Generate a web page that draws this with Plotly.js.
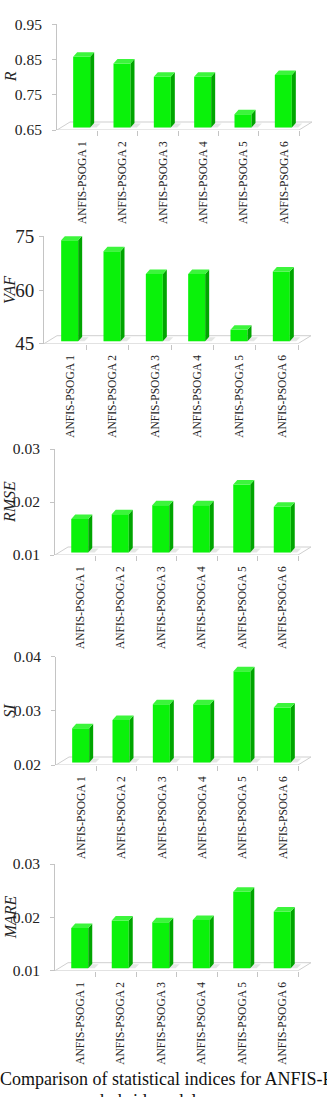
<!DOCTYPE html>
<html>
<head>
<meta charset="utf-8">
<script src="https://cdn.plot.ly/plotly-3.0.1.min.js"></script>
<style>html,body{margin:0;padding:0;background:#fff;overflow:hidden}</style>
</head>
<body>
<div id="chart" style="width:327px;height:1097px"></div>
<script>
// ---- data ----
const categories = ["ANFIS-PSOGA 1","ANFIS-PSOGA 2","ANFIS-PSOGA 3","ANFIS-PSOGA 4","ANFIS-PSOGA 5","ANFIS-PSOGA 6"];
const metricNames = ["R","VAF","RMSE","SI","MARE"];
const R_values    = [0.858, 0.839, 0.801, 0.801, 0.695, 0.806];
const VAF_values  = [73.9, 70.8, 64.5, 64.5, 48.9, 65.2];
const RMSE_values = [0.0168, 0.0177, 0.0194, 0.0194, 0.0233, 0.0191];
const SI_values   = [0.0268, 0.0283, 0.0312, 0.0312, 0.0373, 0.0306];
const MARE_values = [0.0180, 0.0194, 0.0191, 0.0195, 0.0248, 0.0211];
const R_ticks    = [0.65, 0.75, 0.85, 0.95];
const VAF_ticks  = [45, 60, 75];
const RMSE_ticks = [0.01, 0.02, 0.03];
const SI_ticks   = [0.02, 0.03, 0.04];
const MARE_ticks = [0.01, 0.02, 0.03];
const R_tickText    = ["0.65","0.75","0.85","0.95"];
const VAF_tickText  = ["45","60","75"];
const RMSE_tickText = ["0.01","0.02","0.03"];
const SI_tickText   = ["0.02","0.03","0.04"];
const MARE_tickText = ["0.01","0.02","0.03"];
const captionLine1 = "Comparison of statistical indices for ANFIS-PSOGA";
const captionLine2 = "hybrid models";

// ---- layout (pixel frames of each panel) ----
const W = 327, H = 1097;
const panels = [
  {vals:R_values,    ticks:R_ticks,    text:R_tickText,    left:57, right:299, top:24.3,  bot:130,   fs:15.5, standoff:7},
  {vals:VAF_values,  ticks:VAF_ticks,  text:VAF_tickText,  left:44, right:298, top:236.3, bot:343.7, fs:19,   standoff:1},
  {vals:RMSE_values, ticks:RMSE_ticks, text:RMSE_tickText, left:55, right:298, top:449,   bot:555,   fs:15.5, standoff:7},
  {vals:SI_values,   ticks:SI_ticks,   text:SI_tickText,   left:56, right:298, top:656.7, bot:765,   fs:15.5, standoff:7},
  {vals:MARE_values, ticks:MARE_ticks, text:MARE_tickText, left:55, right:298, top:864,   bot:970.7, fs:15.5, standoff:7}
];
const depthPx = {dx:13, dy:8};
const barPx = {w:17, shift:4.5, sdx:4, sdy:4.5, lift:2.5};
const labelShiftPx = 5;
const colors = {front:'#0af20a', side:'#00a500', top:'#3cf53c', floor:'#cfcfcf', axis:'#c4c4c4', text:'#222'};
const serif = 'Liberation Serif, Times New Roman, serif';

const traces = [];
const layout = {
  width:W, height:H, margin:{l:0,r:0,t:0,b:0},
  paper_bgcolor:'#fff', plot_bgcolor:'rgba(0,0,0,0)', showlegend:false,
  annotations:[], shapes:[]
};

function pathOf(xs, ys){
  return xs.map((x,i)=>(i?'L':'M')+x+','+ys[i]).join(' ')+' Z';
}

panels.forEach((p, k) => {
  const sfx = k === 0 ? '' : String(k+1);
  const xa = 'x'+sfx, ya = 'y'+sfx;
  const n = categories.length;
  const unitX = (p.right - p.left) / n;
  const ymin = p.ticks[0], ymax = p.ticks[p.ticks.length-1];
  const unitY = (p.bot - p.top) / (ymax - ymin);
  const dxu = depthPx.dx / unitX, dyu = depthPx.dy / unitY;
  const idx = categories.map((c,i)=>i);

  layout['xaxis'+sfx] = {
    domain:[p.left/W, (p.right+depthPx.dx)/W],
    range:[-0.5, n-0.5+dxu], anchor:ya,
    showline:false, showgrid:false, zeroline:false, fixedrange:true,
    tickmode:'array', tickvals:idx.map(i=>i+labelShiftPx/unitX), ticktext:categories,
    ticks:'', tickangle:-90, ticklabelstandoff:8,
    tickfont:{family:serif, size:11.5, color:colors.text},
    minor:{tickmode:'array', tickvals:idx.map(i=>i+0.5), ticks:'outside', ticklen:5, tickcolor:colors.axis, tickwidth:1, showgrid:false}
  };
  layout['yaxis'+sfx] = {
    domain:[1 - p.bot/H, 1 - p.top/H],
    range:[ymin, ymax], anchor:xa,
    showline:true, linecolor:colors.axis, linewidth:1,
    showgrid:false, zeroline:false, fixedrange:true,
    tickmode:'array', tickvals:p.ticks, ticktext:p.text,
    ticks:'outside', ticklen:4, tickcolor:colors.axis,
    ticklabelstandoff:p.standoff,
    tickfont:{family:serif, size:p.fs, color:colors.text}
  };

  // floor (below the bars)
  layout.shapes.push({type:'path', xref:xa, yref:ya, layer:'below',
    path:pathOf([-0.5, n-0.5, n-0.5+dxu, -0.5+dxu], [ymin, ymin, ymin+dyu, ymin+dyu]),
    line:{color:colors.floor, width:1}, fillcolor:'rgba(0,0,0,0)'});

  const w = barPx.w/unitX, s = barPx.shift/unitX;
  const sdx = barPx.sdx/unitX, sdy = barPx.sdy/unitY;
  const base = ymin + barPx.lift/unitY;

  // soft shadows on the floor
  p.vals.forEach((v,i)=>{
    const xl=i+s-w/2, xr=i+s+w/2;
    layout.shapes.push({type:'path', xref:xa, yref:ya, layer:'below',
      path:pathOf([xl, xr+sdx*1.6, xr+sdx*2.6, xl+sdx*1.2], [base, base, base+sdy*0.9, base+sdy*0.9]),
      line:{width:0}, fillcolor:'rgba(120,130,120,0.2)'});
  });

  // front faces
  traces.push({type:'bar', xaxis:xa, yaxis:ya, hoverinfo:'skip',
    x:idx.map(i=>i+s), y:p.vals.map(v=>v-base), base:base, width:w,
    marker:{color:colors.front, line:{width:0}}});

  // side and top faces
  const sx=[], sy=[], tx=[], ty=[];
  p.vals.forEach((v,i)=>{
    const xl=i+s-w/2, xr=i+s+w/2;
    sx.push(xr, xr+sdx, xr+sdx, xr, xr, null);
    sy.push(base, base+sdy, v+sdy, v, base, null);
    tx.push(xl, xr, xr+sdx, xl+sdx, xl, null);
    ty.push(v, v, v+sdy, v+sdy, v, null);
  });
  traces.push({type:'scatter', mode:'lines', fill:'toself', xaxis:xa, yaxis:ya, hoverinfo:'skip',
    x:sx, y:sy, fillcolor:colors.side, line:{width:0, color:colors.side}});
  traces.push({type:'scatter', mode:'lines', fill:'toself', xaxis:xa, yaxis:ya, hoverinfo:'skip',
    x:tx, y:ty, fillcolor:colors.top, line:{width:0, color:colors.top}});

  // axis title (italic)
  layout.annotations.push({xref:'paper', yref:'paper', x:10/W, y:1-((p.top+p.bot)/2)/H,
    text:'<i>'+metricNames[k]+'</i>', textangle:-90, showarrow:false,
    xanchor:'center', yanchor:'middle', font:{family:serif, size:16, color:colors.text}});
});

layout.annotations.push({xref:'paper', yref:'paper', x:-2/W, y:1-1079/H, xanchor:'left', yanchor:'middle',
  text:captionLine1, showarrow:false, font:{family:serif, size:18, color:'#111'}});
layout.annotations.push({xref:'paper', yref:'paper', x:152/W, y:1-1101/H, xanchor:'center', yanchor:'middle',
  text:captionLine2, showarrow:false, font:{family:serif, size:18, color:'#111'}});

Plotly.newPlot('chart', traces, layout, {staticPlot:true, displayModeBar:false});
</script>
</body>
</html>
